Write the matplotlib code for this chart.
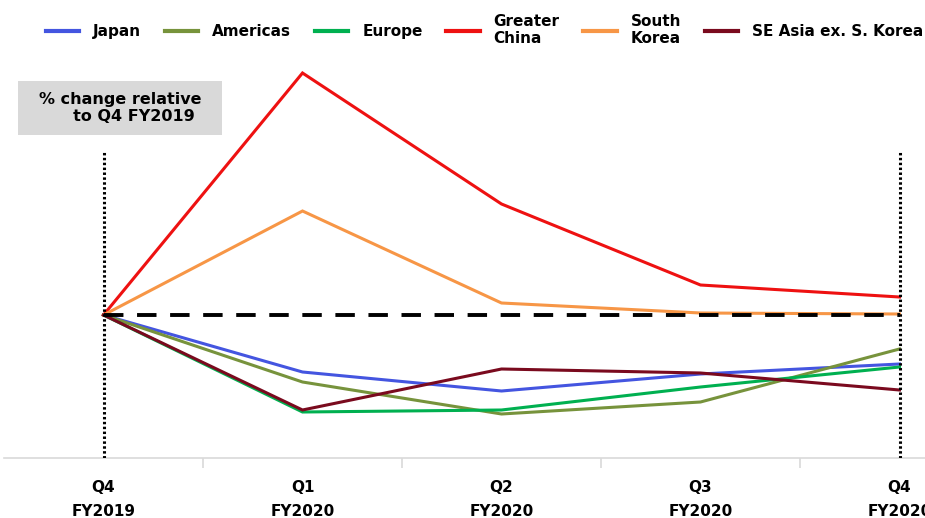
import matplotlib
matplotlib.use("Agg")
import matplotlib.pyplot as plt
from matplotlib.lines import Line2D
from matplotlib.patches import Rectangle

plt.rcParams['font.family'] = ['DejaVu Sans']

quarters = ["Q4\nFY2019", "Q1\nFY2020", "Q2\nFY2020", "Q3\nFY2020", "Q4\nFY2020"]
japan = [0, -57, -76, -59, -49]
americas = [0, -67, -99, -87, -34]
europe = [0, -97, -95, -72, -52]
greater_china = [0, 242, 111, 30, 18]
south_korea = [0, 104, 12, 2, 1]
se_asia = [0, -95, -54, -58, -75]

series = [
    ("Japan", japan, "#4455e0"),
    ("Americas", americas, "#77933c"),
    ("Europe", europe, "#00b050"),
    ("Greater\nChina", greater_china, "#ee1111"),
    ("South\nKorea", south_korea, "#f79646"),
    ("SE Asia ex. S. Korea", se_asia, "#7a0a1e"),
]

W, H = 925, 518
fig = plt.figure(figsize=(W / 100, H / 100), dpi=100)
ax = fig.add_axes([4 / W, (H - 458) / H, 995 / W, 458 / H])
x = list(range(len(quarters)))

handles = []
for name, vals, col in series:
    ax.plot(x, vals, color=col, lw=2.2, zorder=3, solid_joinstyle='miter')
    handles.append(Line2D([], [], color=col, lw=3))

ax.plot([0, 4], [0, 0], color="black", lw=2.8, ls=(0, (5, 3.5)), zorder=4)
for xv in (0, 4):
    ax.plot([xv, xv], [-143, 165], color="black", lw=2.2, ls=(0, (0.8, 0.8)), zorder=5)

ax.set_xlim(-0.5, 4.5)
ax.set_ylim(-143, 315)
for s in ("top", "right", "left"):
    ax.spines[s].set_visible(False)
ax.spines["bottom"].set_color("#d9d9d9")
ax.spines["bottom"].set_linewidth(1.2)
ax.set_yticks([])
ax.set_xticks(x)
ax.set_xticklabels(quarters, fontsize=11, fontweight="bold", linespacing=1.75)
ax.tick_params(axis="x", which="major", length=0, pad=16)
ax.set_xticks([0.5, 1.5, 2.5, 3.5], minor=True)
ax.tick_params(axis="x", which="minor", length=7, color="#d9d9d9", width=1.2, direction="out")

fig.patches.append(Rectangle((18 / W, 1 - 135 / H), 204 / W, 54 / H,
                             transform=fig.transFigure, fc="#d9d9d9", ec="none", zorder=1))
fig.text(120 / W, 1 - 108 / H, "% change relative\n     to Q4 FY2019", ha="center", va="center",
         fontsize=11.5, fontweight="bold", linespacing=1.15, zorder=2)

fig.legend(handles, [s[0] for s in series], loc="center", bbox_to_anchor=(0.5 + 22 / W, 1 - 30 / H),
           ncol=6, frameon=False, handlelength=2.2, columnspacing=1.55, handletextpad=0.9,
           prop=dict(size=11, weight="bold"))

fig.savefig("out.png", dpi=100)
